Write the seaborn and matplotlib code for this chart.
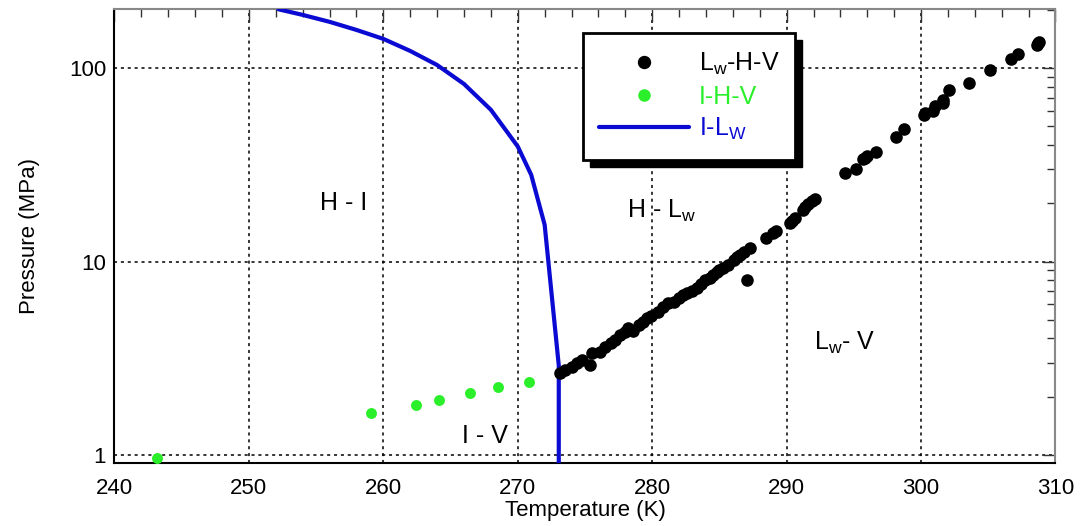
"""
Hydrate phase diagram: L_w-H-V and I-H-V equilibrium points with the ice melting line.
"""
import matplotlib
matplotlib.use("Agg")
import matplotlib.pyplot as plt
import pandas as pd
import seaborn as sns
from matplotlib.lines import Line2D
from matplotlib.patches import Rectangle
from matplotlib.ticker import FixedLocator, FixedFormatter, LogLocator, NullFormatter, MultipleLocator

# L_w-H-V equilibrium (black points)
lhv_T = [273.15, 273.5, 274.0, 274.4, 274.8, 275.4, 275.5, 276.1, 276.5, 276.9,
         277.2, 277.6, 278.0, 278.2, 278.6, 279.0, 279.35, 279.6, 279.9, 280.45,
         280.8, 281.2, 281.6, 282.0, 282.3, 282.6, 282.95, 283.3, 283.6, 283.95,
         284.3, 284.5, 284.8, 285.0, 285.3, 285.65, 286.05, 286.3, 286.55, 286.8,
         287.3, 287.05, 288.5, 289.0, 289.2, 290.25, 290.4, 290.6, 291.25, 291.4,
         291.6, 291.9, 292.1, 294.35, 295.15, 295.7, 295.8, 295.95, 296.65, 298.15,
         298.75, 300.2, 300.3, 300.9, 301.0, 301.6, 301.6, 302.1, 303.6, 305.1,
         306.7, 307.2, 308.6, 308.7, 308.8]
lhv_P = [2.65, 2.76, 2.85, 2.98, 3.1, 2.9, 3.36, 3.42, 3.6, 3.78,
         3.95, 4.18, 4.3, 4.52, 4.35, 4.7, 4.89, 5.09, 5.25, 5.51,
         5.8, 6.09, 6.14, 6.5, 6.73, 6.85, 7.0, 7.3, 7.65, 8.04,
         8.2, 8.5, 8.88, 9.0, 9.22, 9.61, 10.2, 10.5, 10.8, 11.2,
         11.7, 8.04, 13.2, 14.0, 14.4, 15.9, 16.3, 16.8, 18.5, 19.2,
         19.9, 20.5, 21.1, 28.7, 30.1, 33.9, 34.5, 35.2, 37.1, 44.3,
         48.4, 57.4, 59.0, 60.0, 63.9, 66.0, 68.6, 77.3, 84.4, 97.8,
         111.5, 118.8, 132.0, 135.0, 137.0]

# I-H-V equilibrium (green points)
ihv_T = [243.2, 259.05, 262.4, 264.15, 266.45, 268.55, 270.85]
ihv_P = [0.957, 1.64, 1.80, 1.91, 2.08, 2.23, 2.39]

# I-L_w melting line (blue)
il_T = [252.2, 254.0, 256.0, 258.0, 260.0, 262.0, 264.0, 266.0, 268.0, 270.0,
        271.0, 272.0, 273.05, 273.05]
il_P = [202.0, 189.0, 174.0, 158.0, 142.0, 123.0, 104.0, 83.0, 61.0, 39.4,
        28.1, 15.5, 2.9, 0.85]

x_ticks = [240, 250, 260, 270, 280, 290, 300, 310]
y_ticks = [1, 10, 100]
y_tick_labels = ["1", "10", "100"]

GREEN = "#2bef2b"
BLUE = "#0a0ad2"

sns.set_theme(style="white")
plt.rcParams["font.family"] = ["Liberation Sans", "DejaVu Sans"]
plt.rcParams["mathtext.fontset"] = "custom"
plt.rcParams["mathtext.rm"] = "Liberation Sans"
plt.rcParams["text.color"] = "black"
plt.rcParams["axes.labelcolor"] = "black"
plt.rcParams["xtick.labelcolor"] = "black"
plt.rcParams["ytick.labelcolor"] = "black"

lhv = pd.DataFrame({"T": lhv_T, "P": lhv_P})
ihv = pd.DataFrame({"T": ihv_T, "P": ihv_P})
il = pd.DataFrame({"T": il_T, "P": il_P})

fig = plt.figure(figsize=(10.81, 5.26), dpi=100)
ax = fig.add_axes([0.1059, 0.1203, 0.8705, 0.862])

sns.lineplot(data=il, x="T", y="P", sort=False, estimator=None, color=BLUE,
             linewidth=3, ax=ax, zorder=3)
sns.scatterplot(data=ihv, x="T", y="P", color=GREEN, s=62, linewidth=0, ax=ax, zorder=4)
sns.scatterplot(data=lhv, x="T", y="P", color="black", s=82, linewidth=0, ax=ax, zorder=4)

ax.set_yscale("log")
ax.set_xlim(240, 310)
ax.set_ylim(0.91, 202)

ax.xaxis.set_major_locator(FixedLocator(x_ticks))
ax.xaxis.set_minor_locator(MultipleLocator(2))
ax.yaxis.set_major_locator(FixedLocator(y_ticks))
ax.yaxis.set_major_formatter(FixedFormatter(y_tick_labels))
ax.yaxis.set_minor_locator(LogLocator(base=10, subs=range(2, 10)))
ax.yaxis.set_minor_formatter(NullFormatter())

ax.grid(True, which="major", color="black", linestyle=(0, (2, 2.5)), linewidth=1.1)
ax.tick_params(which="both", direction="in", top=True, right=True, color="#333333", width=1)
ax.tick_params(which="major", length=9, labelsize=16)
ax.tick_params(which="minor", length=6)
ax.tick_params(axis="x", which="major", pad=11)
ax.tick_params(axis="y", which="major", pad=6)

for side in ["left", "bottom"]:
    ax.spines[side].set_color("black")
    ax.spines[side].set_linewidth(1.5)
for side in ["top", "right"]:
    ax.spines[side].set_color("#888888")
    ax.spines[side].set_linewidth(1.5)

ax.set_xlabel("Temperature (K)", fontsize=16, labelpad=1)
ax.set_ylabel("Pressure (MPa)", fontsize=16, labelpad=21)

# region labels
ax.text(255.3, 18.5, "H - I", fontsize=18, ha="left", va="baseline")
ax.text(265.86, 1.154, "I - V", fontsize=18, ha="left", va="baseline")
ax.text(278.1, 16.8, r"H - $\mathregular{L_w}$", fontsize=18, ha="left", va="baseline")
ax.text(292.0, 3.49, r"$\mathregular{L_w}$- V", fontsize=18, ha="left", va="baseline")

# legend box with a solid drop shadow
x0, x1, y0, y1 = 0.4979, 0.7232, 0.6676, 0.9477
ax.add_patch(Rectangle((x0 + 0.0072, y0 - 0.0150), x1 - x0, y1 - y0, transform=ax.transAxes,
                       facecolor="black", edgecolor="black", clip_on=False, zorder=5))
ax.add_patch(Rectangle((x0, y0), x1 - x0, y1 - y0, transform=ax.transAxes,
                       facecolor="white", edgecolor="black", linewidth=2, clip_on=False, zorder=5))

handles = [
    Line2D([], [], marker="o", linestyle="none", color="black", markersize=8.6),
    Line2D([], [], marker="o", linestyle="none", color=GREEN, markersize=8),
    Line2D([], [], color=BLUE, linewidth=3),
]
labels = [r"$\mathregular{L_w}$-H-V", "I-H-V", r"I-$\mathregular{L_W}$"]
leg = ax.legend(handles, labels, loc="center", bbox_to_anchor=(0.6105, 0.8077),
                frameon=False, fontsize=18, handlelength=3.6, handletextpad=0.4,
                labelspacing=0.3, borderpad=0,
                labelcolor=["black", GREEN, BLUE])
leg.set_zorder(6)

fig.savefig("out.png", dpi=100)
